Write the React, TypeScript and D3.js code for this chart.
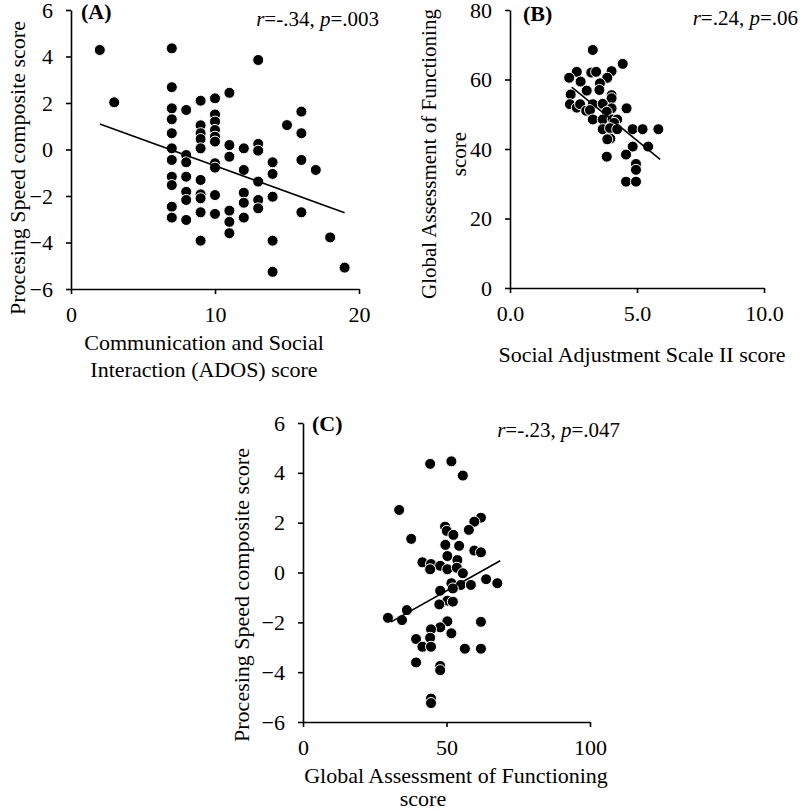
import React, { useEffect, useRef } from "react";
import * as d3 from "d3";

// ---------- Data ----------
// Panel A: ADOS (x) vs processing speed (y)
const aX = [2, 3,
  7, 7, 7, 7, 7, 7, 7, 7, 7, 7, 7,
  8, 8, 8, 8, 8, 8, 8,
  9, 9, 9, 9, 9, 9, 9, 9, 9, 9,
  10, 10, 10, 10, 10, 10, 10, 10, 10, 10,
  11, 11, 11, 11, 11, 11,
  12, 12, 12, 12, 12,
  13, 13, 13, 13, 13, 13,
  14, 14, 14, 14, 14,
  15, 16, 16, 16, 16, 17, 18, 19];
const aY = [4.28, 2.03,
  4.35, 2.68, 1.77, 1.30, 0.70, 0.05, -0.45, -1.17, -1.53, -2.46, -2.93,
  1.70, -0.24, -0.55, -1.17, -1.82, -2.17, -3.03,
  2.10, 1.04, 0.70, 0.45, 0.05, -1.31, -1.93, -2.10, -2.70, -3.92,
  2.20, 1.51, 1.20, 0.84, 0.55, 0.34, -0.59, -0.78, -1.96, -2.77,
  2.44, 0.19, -0.31, -2.63, -3.11, -3.60,
  0.05, -0.88, -1.86, -2.29, -2.93,
  3.85, 0.24, -0.05, -1.38, -2.17, -2.53,
  -0.55, -1.05, -2.03, -3.92, -5.26,
  1.05, 1.63, 0.70, -0.45, -2.70, -0.88, -3.78, -5.08];
const aTrend = [[2, 1.1], [19, -2.72]];

// Panel B: Social Adjustment Scale II (x) vs GAF (y)
const bX = [3.26, 2.63, 3.2, 3.39, 4.00, 4.44, 2.33, 3.83, 2.78, 3.54, 3.02, 3.52, 2.39, 4.0, 4.00,
  2.36, 2.63, 2.76, 3.26, 3.65, 4.00, 4.59, 3.0, 3.15, 3.81, 3.26, 3.65, 4.04, 4.22, 4.1,
  3.65, 3.94, 4.22, 4.83, 5.22, 5.84, 3.95, 3.83, 4.83, 5.44, 3.81, 4.57, 4.96, 4.96, 4.57, 4.96];
const bY = [68.5, 62.2, 62.0, 62.2, 62.4, 64.5, 60.5, 60.5, 59.4, 58.9, 56.8, 57.0, 55.7, 55.5, 54.6,
  52.9, 51.9, 52.9, 52.9, 53.0, 51.7, 51.7, 51.0, 51.2, 50.7, 48.5, 48.5, 48.5, 48.5, 47.5,
  45.7, 46.0, 45.7, 45.7, 45.7, 45.7, 43.0, 42.8, 40.7, 40.7, 37.8, 38.4, 35.7, 34.0, 30.6, 30.6];
const bTrend = [[2.43, 57.8], [5.91, 37.0]];

// Panel C: GAF (x) vs processing speed (y)
const cX = [44.3, 51.7, 55.7, 33.5, 62.0, 59.7, 49.5, 50.1, 57.8, 52.4, 37.7, 49.6, 54.4, 59.7, 62.0,
  50.3, 53.8, 41.6, 44.6, 47.8, 44.3, 50.3, 53.6, 55.7, 63.8, 67.7, 51.7, 55.0, 58.5, 52.2,
  47.8, 50.3, 52.2, 47.5, 36.2, 29.6, 34.5, 50.3, 62.0, 47.8, 44.6, 51.7, 39.4, 44.3, 41.6,
  44.6, 56.4, 62.0, 39.4, 47.8, 47.8, 44.6, 44.6];
const cY = [4.36, 4.46, 3.89, 2.51, 2.20, 2.04, 1.84, 1.67, 1.71, 1.51, 1.35, 1.11, 1.07, 0.88, 0.81,
  0.66, 0.50, 0.41, 0.34, 0.27, 0.13, 0.13, 0.19, -0.03, -0.27, -0.43, -0.43, -0.50, -0.50, -0.64,
  -0.73, -1.13, -1.17, -1.28, -1.51, -1.82, -1.91, -1.96, -1.98, -2.20, -2.28, -2.44, -2.67, -2.62, -2.98,
  -2.98, -3.06, -3.06, -3.61, -3.75, -3.92, -5.06, -5.24];
const cTrend = [[30.7, -1.98], [68.7, 0.47]];

const psTicks = [-6, -4, -2, 0, 2, 4, 6];
const adosTicks = [0, 10, 20];
const gafTicks = [0, 20, 40, 60, 80];
const sasTicks = [0, 5, 10];
const gafXTicks = [0, 50, 100];

const labels = ["(A)", "(B)", "(C)"];
const stats = [
  { r: "=-.34, ", p: "=.003" },
  { r: "=.24, ", p: "=.06" },
  { r: "=-.23, ", p: "=.047" },
];
const xTitles = [
  ["Communication and Social", "Interaction (ADOS) score"],
  ["Social Adjustment Scale II score"],
  ["Global Assessment of Functioning", "score"],
];
const yTitles = [
  ["Procesing Speed composite score"],
  ["Global Assessment of Functioning", "score"],
  ["Procesing Speed composite score"],
];

const FONT = "'Liberation Serif', 'Times New Roman', serif";

export default function App() {
  const ref = useRef<SVGSVGElement>(null);

  useEffect(() => {
    const svg = d3.select(ref.current);
    svg.selectAll("*").remove();

    const panels = [
      {
        xs: aX, ys: aY, trend: aTrend,
        xDom: [0, 20], yDom: [-6, 6], xR: [71, 359], yR: [289, 10],
        xTicks: adosTicks, yTicks: psTicks, xFmt: d3.format("d"), yFmt: d3.format("d"),
        label: { x: 81, y: 19 }, stat: { x: 379, y: 26 },
        xTitle: [{ x: 204, y: 350 }, { x: 204, y: 377 }],
        yTitle: [{ x: 25, y: 168 }], yTitleSize: 22,
      },
      {
        xs: bX, ys: bY, trend: bTrend,
        xDom: [0, 10], yDom: [0, 80], xR: [510, 764], yR: [288, 10],
        xTicks: sasTicks, yTicks: gafTicks, xFmt: d3.format(".1f"), yFmt: d3.format("d"),
        label: { x: 523, y: 21 }, stat: { x: 798, y: 25 },
        xTitle: [{ x: 642, y: 362 }],
        yTitle: [{ x: 436, y: 154 }, { x: 466, y: 154 }], yTitleSize: 21,
      },
      {
        xs: cX, ys: cY, trend: cTrend,
        xDom: [0, 100], yDom: [-6, 6], xR: [303, 590], yR: [722, 423],
        xTicks: gafXTicks, yTicks: psTicks, xFmt: d3.format("d"), yFmt: d3.format("d"),
        label: { x: 312, y: 431 }, stat: { x: 620, y: 437 },
        xTitle: [{ x: 456, y: 783 }, { x: 423, y: 806 }],
        yTitle: [{ x: 249, y: 595 }], yTitleSize: 22,
      },
    ];

    panels.forEach((p, i) => {
      const g = svg.append("g");
      const x = d3.scaleLinear().domain(p.xDom).range(p.xR);
      const y = d3.scaleLinear().domain(p.yDom).range(p.yR);

      const yAxis = d3.axisLeft(y).tickValues(p.yTicks).tickFormat(p.yFmt as any)
        .tickSize(5).tickSizeOuter(0).tickPadding(13);
      const xAxis = d3.axisBottom(x).tickValues(p.xTicks).tickFormat(p.xFmt as any)
        .tickSize(5).tickSizeOuter(0).tickPadding(12);

      const gy = g.append("g").attr("transform", `translate(${p.xR[0]},0)`).call(yAxis);
      const gx = g.append("g").attr("transform", `translate(0,${p.yR[0]})`).call(xAxis);
      [gx, gy].forEach((ax) => {
        ax.select(".domain").attr("stroke", "#000").attr("stroke-width", 1.6);
        ax.selectAll(".tick line").attr("stroke", "#000").attr("stroke-width", 1.6);
        ax.selectAll(".tick text").attr("font-family", FONT).attr("font-size", 22).attr("fill", "#000");
      });

      // points
      g.append("g").selectAll("circle")
        .data(p.xs.map((v, k) => [v, p.ys[k]]))
        .join("circle")
        .attr("cx", (d) => x(d[0]))
        .attr("cy", (d) => y(d[1]))
        .attr("r", 5.5)
        .attr("fill", "#000")
        .attr("stroke", "#fff")
        .attr("stroke-width", 1);

      // trend line
      g.append("path")
        .attr("d", d3.line<number[]>().x((d) => x(d[0])).y((d) => y(d[1]))(p.trend))
        .attr("stroke", "#000")
        .attr("stroke-width", 1.6)
        .attr("fill", "none");

      // panel label
      g.append("text")
        .attr("x", p.label.x).attr("y", p.label.y)
        .attr("font-family", FONT).attr("font-size", 22).attr("font-weight", "bold")
        .text(labels[i]);

      // stats
      const st = g.append("text")
        .attr("x", p.stat.x).attr("y", p.stat.y)
        .attr("text-anchor", "end")
        .attr("font-family", FONT).attr("font-size", 21);
      st.append("tspan").attr("font-style", "italic").text("r");
      st.append("tspan").text(stats[i].r);
      st.append("tspan").attr("font-style", "italic").text("p");
      st.append("tspan").text(stats[i].p);

      // x title
      xTitles[i].forEach((t, k) => {
        g.append("text")
          .attr("x", p.xTitle[k].x).attr("y", p.xTitle[k].y)
          .attr("text-anchor", "middle")
          .attr("font-family", FONT).attr("font-size", 22)
          .text(t);
      });
      // y title
      yTitles[i].forEach((t, k) => {
        g.append("text")
          .attr("transform", `translate(${p.yTitle[k].x},${p.yTitle[k].y}) rotate(-90)`)
          .attr("text-anchor", "middle")
          .attr("font-family", FONT).attr("font-size", p.yTitleSize)
          .text(t);
      });
    });
  }, []);

  return (
    <svg
      ref={ref}
      width={800}
      height={810}
      style={{ position: "absolute", left: 0, top: 0, background: "#fff" }}
    />
  );
}
